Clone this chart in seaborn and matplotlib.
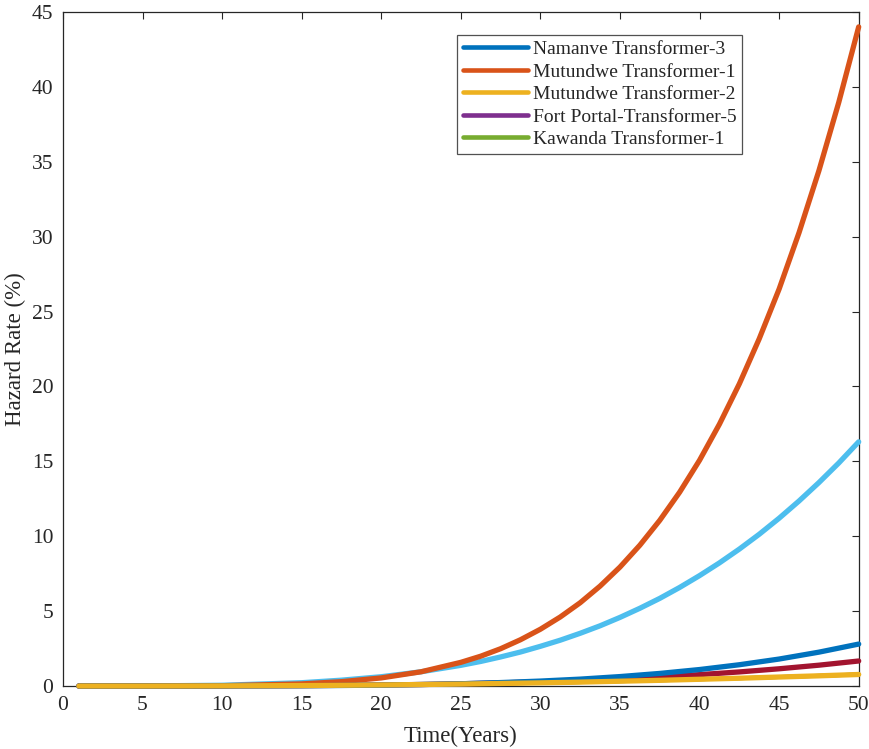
import pandas as pd
import matplotlib
matplotlib.use('Agg')
import matplotlib.pyplot as plt
import seaborn as sns

# hazard rate (%), per transformer
years = [1, 5, 10, 15, 17.5, 20, 22.5, 25, 27.5, 30, 32.5, 35, 37.5, 40, 42.5, 45, 47.5, 50]
years_fine = [1, 5, 10, 15, 17.5, 20, 22.5, 25, 26.25, 27.5, 28.75, 30, 31.25, 32.5, 33.75, 35,
              36.25, 37.5, 38.75, 40, 41.25, 42.5, 43.75, 45, 46.25, 47.5, 48.75, 50]

namanve_3 = [0, 0, 0.003, 0.018, 0.035, 0.06, 0.10, 0.15, 0.23, 0.33, 0.46, 0.63, 0.84, 1.10, 1.42, 1.80, 2.26, 2.8]
mutundwe_2 = [0, 0, 0.01, 0.03, 0.05, 0.07, 0.10, 0.13, 0.17, 0.21, 0.26, 0.32, 0.38, 0.45, 0.52, 0.60, 0.68, 0.77]
# these two are not visible in the reference: hidden under the yellow curve
fort_portal_5 = [0, 0, 0.01, 0.03, 0.05, 0.07, 0.10, 0.13, 0.17, 0.21, 0.26, 0.32, 0.38, 0.45, 0.52, 0.60, 0.68, 0.77]
kawanda_1 = [0, 0, 0.01, 0.03, 0.05, 0.07, 0.10, 0.13, 0.17, 0.21, 0.26, 0.32, 0.38, 0.45, 0.52, 0.60, 0.68, 0.77]
extra_b = [0, 0, 0.006, 0.025, 0.045, 0.07, 0.10, 0.15, 0.21, 0.28, 0.37, 0.48, 0.61, 0.76, 0.94, 1.15, 1.39, 1.67]

# steeper curves, read on the finer grid
mutundwe_1 = [0, 0, 0.02, 0.14, 0.29, 0.54, 0.95, 1.58, 1.99, 2.49, 3.09, 3.79, 4.61, 5.56, 6.67, 7.94,
              9.40, 11.06, 12.94, 15.07, 17.48, 20.17, 23.18, 26.5, 30.26, 34.4, 38.97, 44.0]
extra_a = [0, 0.004, 0.05, 0.22, 0.39, 0.62, 0.95, 1.38, 1.64, 1.94, 2.27, 2.65, 3.06, 3.52, 4.02, 4.58,
           5.19, 5.85, 6.58, 7.37, 8.22, 9.14, 10.13, 11.2, 12.35, 13.58, 14.89, 16.3]

legend_names = ['Namanve Transformer-3', 'Mutundwe Transformer-1', 'Mutundwe Transformer-2',
                'Fort Portal-Transformer-5', 'Kawanda Transformer-1']

# drawing order (last one on top), with line width
series = [
    ('Fort Portal-Transformer-5', years, fort_portal_5, '#7E2F8E', 2.8),
    ('Kawanda Transformer-1', years, kawanda_1, '#77AC30', 2.8),
    ('extra_a', years_fine, extra_a, '#4DBEEE', 3.8),
    ('Mutundwe Transformer-1', years_fine, mutundwe_1, '#D95319', 3.8),
    ('extra_b', years, extra_b, '#A2142F', 3.8),
    ('Namanve Transformer-3', years, namanve_3, '#0072BD', 3.8),
    ('Mutundwe Transformer-2', years, mutundwe_2, '#EDB120', 3.8),
]

sns.set_style('white')
plt.rcParams['font.family'] = ['Liberation Serif', 'DejaVu Serif']

fig = plt.figure(figsize=(8.7, 7.49), dpi=100)
ax = fig.add_axes([0.0724, 0.0841, 0.9146, 0.9])

handles = {}
for name, t, vals, col, lw in series:
    df = pd.DataFrame({'t': t, 'h': vals})
    sns.lineplot(data=df, x='t', y='h', color=col, linewidth=lw, ax=ax, label=name)
    handles[name] = ax.lines[-1]
    ax.lines[-1].set_clip_on(False)
    ax.lines[-1].set_zorder(3)

ax.set_xlim(0, 50)
ax.set_ylim(0, 45)
ax.set_xticks(range(0, 51, 5))
ax.set_yticks(range(0, 46, 5))
ax.set_xlabel('Time(Years)', fontsize=16.5, labelpad=8)
ax.set_ylabel('Hazard Rate (%)', fontsize=16.5, labelpad=4)
ax.tick_params(direction='in', length=5, width=0.8, colors='#262626', labelsize=15.5,
               top=True, right=True, pad=7)
for sp in ax.spines.values():
    sp.set_color('#262626')
    sp.set_linewidth(0.9)

leg = ax.legend([handles[n] for n in legend_names], legend_names,
                loc='upper left', bbox_to_anchor=(0.495, 0.966), fontsize=14,
                handlelength=3.35, frameon=True, fancybox=False, borderpad=0.3,
                labelspacing=0.25, handletextpad=0.25, borderaxespad=0)
leg.get_frame().set_edgecolor('#262626')
leg.get_frame().set_linewidth(0.9)
leg.set_zorder(5)
for ln in leg.get_lines():
    ln.set_linewidth(3.3)

fig.savefig('out.png', dpi=100)
